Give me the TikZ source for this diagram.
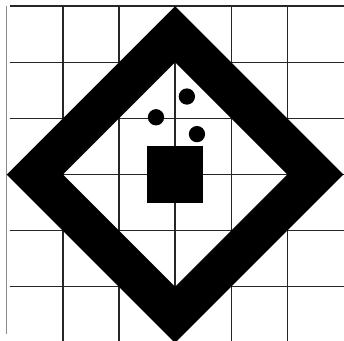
\documentclass[tikz,border=0pt]{standalone}
\usepackage{tikz}

\begin{document}
\begin{tikzpicture}[
        gridline/.style={black!85, line width=0.7pt},
        blob/.style={fill=black},
    ]
        \useasboundingbox (-3.12,-2.96) rectangle (3.01,3.11);
        \clip (-3.12,-2.96) rectangle (3.01,3.11);

        % grid
        \draw[black!45, line width=0.6pt] (-3,-2.85) -- (-3,3);
        \foreach \x in {-2,...,2}
            \draw[gridline] (\x,-3) -- (\x,3);
        \foreach \y in {-2,...,3}
            \draw[gridline] (-2.95,\y) -- (3.1,\y);

        % diamond frame
        \fill[black, even odd rule] (0,3) -- (3,0) -- (0,-3) -- (-3,0) -- cycle
            (0,2) -- (2,0) -- (0,-2) -- (-2,0) -- cycle;

        % square in the middle
        \fill[blob] (-0.5,-0.5) rectangle (0.5,0.5);

        % three dots
        \fill[blob] (0.21,1.39) circle (0.145);
        \fill[blob] (-0.34,1.02) circle (0.145);
        \fill[blob] (0.39,0.72) circle (0.145);
    \end{tikzpicture}
\end{document}
